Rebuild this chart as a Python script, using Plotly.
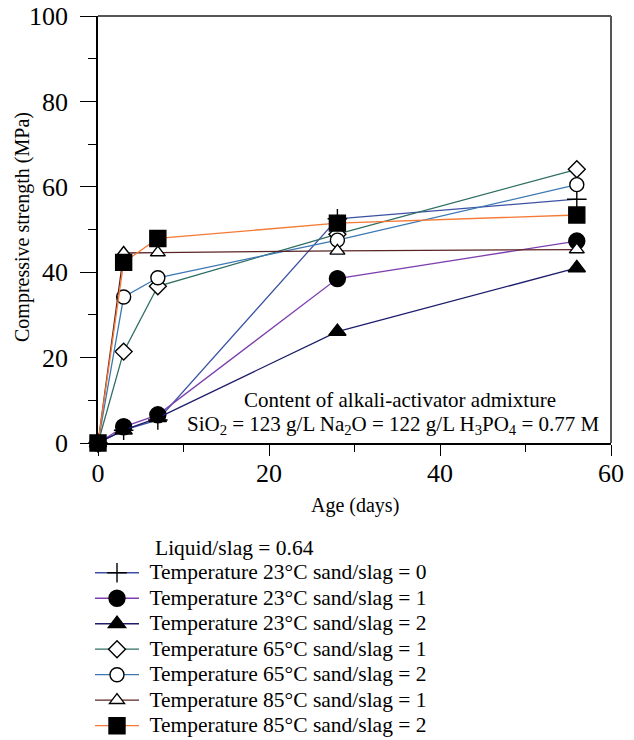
import plotly.graph_objects as go

# Curing age (days)
days = [0, 3, 7, 28, 56]

# Compressive strength (MPa) for each curing regime
t23_sand0 = [0, 3.0, 5.4, 52.5, 57.1]
t23_sand1 = [0, 3.8, 6.6, 38.5, 47.3]
t23_sand2 = [0, 3.0, 5.9, 26.1, 41.0]
t65_sand1 = [0, 21.4, 36.7, 48.9, 64.1]
t65_sand2 = [0, 34.2, 38.7, 47.5, 60.5]
t85_sand1 = [0, 44.5, 44.6, 45.0, 45.3]
t85_sand2 = [0, 42.3, 47.9, 51.5, 53.4]

series_names = [
    "Temperature 23°C sand/slag = 0",
    "Temperature 23°C sand/slag = 1",
    "Temperature 23°C sand/slag = 2",
    "Temperature 65°C sand/slag = 1",
    "Temperature 65°C sand/slag = 2",
    "Temperature 85°C sand/slag = 1",
    "Temperature 85°C sand/slag = 2",
]
series_values = [t23_sand0, t23_sand1, t23_sand2, t65_sand1, t65_sand2, t85_sand1, t85_sand2]

line_colors = ["#3b52a3", "#7d3fae", "#1c1c6b", "#2f6e63", "#3b78b3", "#5b2424", "#f47a35"]
symbols = ["cross-thin", "circle", "triangle-up", "diamond", "circle", "triangle-up", "square"]
fills = ["black", "black", "black", "white", "white", "white", "black"]
sizes = [14, 16, 15, 13, 14, 13, 16]

FONT = "Liberation Serif"
TXT = dict(family=FONT, size=21, color="black")

fig = go.Figure()
for name, vals, lc, sym, fc, sz in zip(series_names, series_values, line_colors, symbols, fills, sizes):
    fig.add_trace(go.Scatter(
        x=days, y=vals, mode="lines+markers",
        name='<span style="font-size:21.5px">\u00a0' + name + "</span>",
        line=dict(color=lc, width=1.3),
        marker=dict(symbol=sym, size=sz, color=fc,
                    line=dict(color="black", width=1.4)),
        cliponaxis=False,
    ))

axis_common = dict(
    showgrid=False, zeroline=False, showline=True, linecolor="black", linewidth=1.5,
    ticks="outside", tickcolor="black", tickwidth=1.3,
    tickfont=dict(family=FONT, size=26, color="black"),
    automargin=False,
)

fig.update_xaxes(
    range=[0, 60], dtick=20, tick0=0, ticklen=11, ticklabelstandoff=-5,
    minor=dict(dtick=10, ticklen=7, tickcolor="black", tickwidth=1.3, ticks="outside"),
    **axis_common,
)
fig.update_yaxes(
    range=[0, 100], dtick=20, tick0=0, ticklen=16, ticklabelstandoff=7,
    minor=dict(dtick=10, ticklen=8, tickcolor="black", tickwidth=1.3, ticks="outside"),
    **axis_common,
)

# Axis titles
fig.add_annotation(text="Age (days)", xref="paper", yref="paper",
                   x=0.5, y=(443 - 505) / 427, xanchor="center", yanchor="middle",
                   showarrow=False, font=dict(family=FONT, size=20, color="black"))
fig.add_annotation(text="Compressive strength (MPa)", xref="paper", yref="paper", textangle=-90,
                   x=(22 - 98) / 513, y=(443 - 227) / 427, xanchor="center", yanchor="middle",
                   showarrow=False, font=dict(family=FONT, size=20, color="black"))

# Frame on the top and right sides
fig.add_shape(type="line", xref="paper", yref="paper", x0=0, x1=1, y0=1, y1=1,
              line=dict(color="#555555", width=2))
fig.add_shape(type="line", xref="paper", yref="paper", x0=1, x1=1, y0=0, y1=1,
              line=dict(color="#555555", width=2))

fig.add_annotation(text="Content of alkali-activator admixture", xref="paper", yref="paper",
                   x=(400 - 98) / 513, y=(443 - 400) / 427, xanchor="center", yanchor="middle",
                   showarrow=False, font=TXT)
fig.add_annotation(text="SiO<sub>2</sub> = 123 g/L Na<sub>2</sub>O = 122 g/L H<sub>3</sub>PO<sub>4</sub> = 0.77 M",
                   xref="paper", yref="paper", x=(393 - 98) / 513, y=(443 - 425) / 427,
                   xanchor="center", yanchor="middle", showarrow=False, font=TXT)
fig.add_annotation(text="Liquid/slag = 0.64", xref="paper", yref="paper",
                   x=(153 - 98) / 513, y=(443 - 548) / 427, xanchor="left", yanchor="middle",
                   showarrow=False, font=dict(family=FONT, size=21.5, color="black"))

fig.update_layout(
    width=634, height=740,
    margin=dict(l=98, r=23, t=16, b=297, autoexpand=False),
    paper_bgcolor="white", plot_bgcolor="white",
    font=dict(family=FONT, color="black"),
    showlegend=True,
    legend=dict(
        x=(90 - 98) / 513, y=(443 - 555) / 427, xanchor="left", yanchor="top",
        font=dict(family=FONT, size=17.3, color="black"),
        itemwidth=44, bgcolor="rgba(0,0,0,0)", borderwidth=0, tracegroupgap=0,
    ),
)

fig.write_html("out.html")
